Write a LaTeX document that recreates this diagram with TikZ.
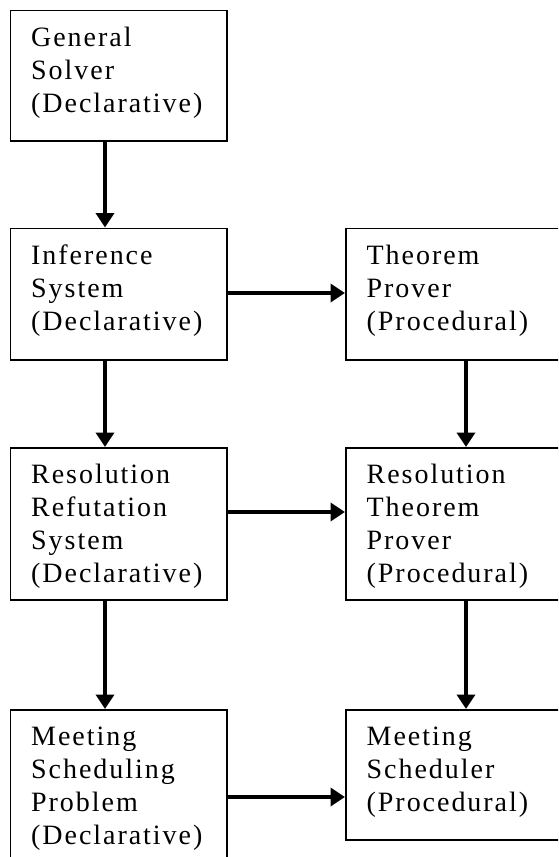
\documentclass[tikz,border=0pt]{standalone}
\usepackage{fontspec}
\newfontfamily\boxfont[LetterSpace=7]{Liberation Serif}
\usetikzlibrary{arrows.meta}
\begin{document}
\begin{tikzpicture}[x=1pt,y=-1pt,
  box/.style={draw=black,line width=1.8pt,inner sep=0pt,anchor=north west},
  lbl/.style={inner sep=0pt,anchor=base west,align=left,font=\boxfont\fontsize{28}{33}\selectfont},
  arr/.style={line width=4pt,-{Triangle[length=14.5pt,width=18pt]}}]
\useasboundingbox (0,0) rectangle (558,857);
\begin{scope}
\clip (0,0) rectangle (558,857);
% boxes
\node[box,minimum width=216.5pt,minimum height=130.5pt] (b1) at (9.5,9.5) {};
\node[box,minimum width=216.5pt,minimum height=131.5pt] (b2) at (9.5,227.5) {};
\node[box,minimum width=217pt,minimum height=131.5pt] (b3) at (345,227.5) {};
\node[box,minimum width=216.5pt,minimum height=152pt] (b4) at (9.5,447) {};
\node[box,minimum width=217pt,minimum height=152pt] (b5) at (345,447) {};
\node[box,minimum width=216.5pt,minimum height=166pt] (b6) at (9.5,709) {};
\node[box,minimum width=217pt,minimum height=130pt] (b7) at (345,709) {};
% labels (anchor at baseline of last line)
\node[lbl] (t1) at ([shift={(21.5,102.5)}]b1.north west) {General\\Solver\\(Declarative)};
\node[lbl] (t2) at ([shift={(21.5,102.5)}]b2.north west) {Inference\\System\\(Declarative)};
\node[lbl] (t3) at ([shift={(21.5,102.5)}]b3.north west) {Theorem\\Prover\\(Procedural)};
\node[lbl] (t4) at ([shift={(21.5,135)}]b4.north west) {Resolution\\Refutation\\System\\(Declarative)};
\node[lbl] (t5) at ([shift={(21.5,135)}]b5.north west) {Resolution\\Theorem\\Prover\\(Procedural)};
\node[lbl] (t6) at ([shift={(21.5,135)}]b6.north west) {Meeting\\Scheduling\\Problem\\(Declarative)};
\node[lbl] (t7) at ([shift={(21.5,102)}]b7.north west) {Meeting\\Scheduler\\(Procedural)};
% connectors
\draw[arr] (105,0 |- b1.south) -- (105,0 |- b2.north);
\draw[arr] (105,0 |- b2.south) -- (105,0 |- b4.north);
\draw[arr] (105,0 |- b4.south) -- (105,0 |- b6.north);
\draw[arr] (466,0 |- b3.south) -- (466,0 |- b5.north);
\draw[arr] (466,0 |- b5.south) -- (466,0 |- b7.north);
\draw[arr] (b2.east |- 0,293) -- (b3.west |- 0,293);
\draw[arr] (b4.east |- 0,512) -- (b5.west |- 0,512);
\draw[arr] (b6.east |- 0,797) -- (b7.west |- 0,797);
\end{scope}
\end{tikzpicture}
\end{document}
